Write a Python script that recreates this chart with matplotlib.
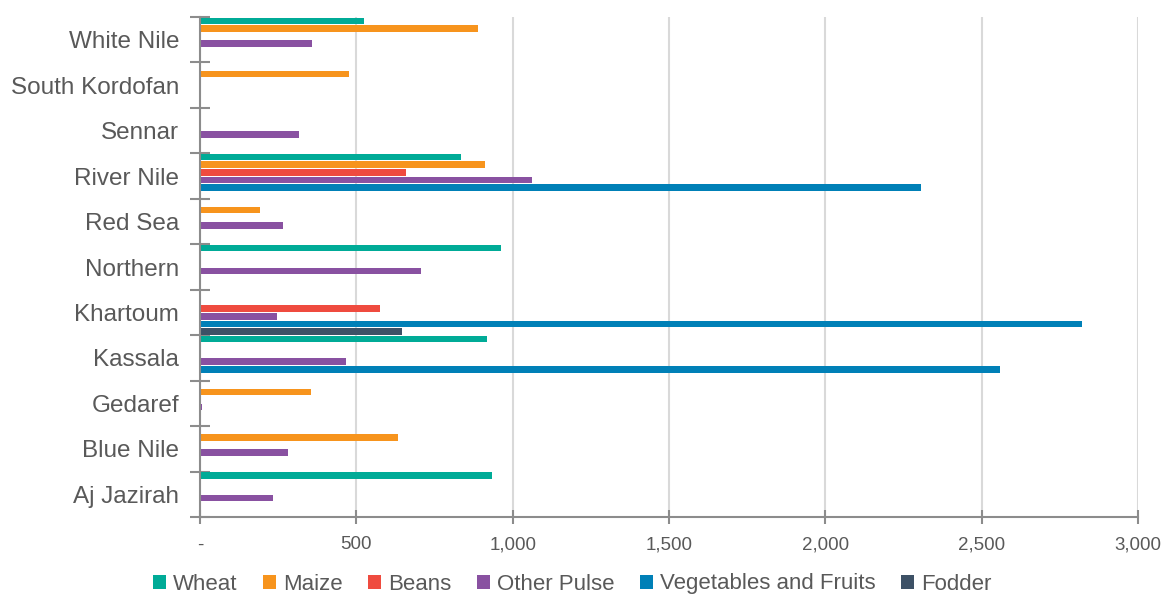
import numpy as np
import matplotlib
matplotlib.use("Agg")
import matplotlib.pyplot as plt
from matplotlib.patches import Patch
from matplotlib.ticker import FuncFormatter

plt.rcParams['font.family'] = ['Liberation Sans', 'DejaVu Sans']

# States, listed from the bottom of the axis upwards
states = ['Aj Jazirah', 'Blue Nile', 'Gedaref', 'Kassala', 'Khartoum', 'Northern',
          'Red Sea', 'River Nile', 'Sennar', 'South Kordofan', 'White Nile']

crops = ['Wheat', 'Maize', 'Beans', 'Other Pulse', 'Vegetables and Fruits', 'Fodder']
colors = ['#00AB97', '#F7941D', '#EF4B3F', '#8951A1', '#0080B7', '#3D5166']

wheat = [933, 0, 0, 917, 0, 963, 0, 835, 0, 0, 524]
maize = [0, 632, 356, 0, 0, 0, 192, 913, 0, 477, 889]
beans = [0, 0, 0, 0, 575, 0, 0, 658, 0, 0, 0]
other_pulse = [232, 280, 6, 466, 247, 707, 265, 1062, 318, 0, 359]
veg_fruits = [0, 0, 0, 2558, 2822, 0, 0, 2306, 0, 0, 0]
fodder = [0, 0, 0, 0, 646, 0, 0, 0, 0, 0, 0]

series = [wheat, maize, beans, other_pulse, veg_fruits, fodder]

text_col = '#595959'
axis_col = '#8C8C8C'

fig = plt.figure(figsize=(11.67, 5.94), dpi=100)
ax = fig.add_axes([200 / 1167, 1 - 517 / 594, 938 / 1167, 500 / 594])

y = np.arange(len(states))
slot = 1 / len(crops)
for k, (vals, col) in enumerate(zip(series, colors)):
    # first series sits at the top of each band
    pos = y + 0.5 - (k + 0.5) * slot
    ax.barh(pos, vals, height=slot * 0.86, color=col, zorder=3)

ax.set_xlim(0, 3000)
ax.set_ylim(-0.5, len(states) - 0.5)
ax.set_xticks(np.arange(0, 3001, 500))
ax.xaxis.set_major_formatter(FuncFormatter(lambda v, p: '-' if v == 0 else f'{int(v):,}'))
ax.grid(axis='x', color='#D9D9D9', linewidth=1.5, zorder=0)

# band boundaries as major ticks, state names on minor ticks
ax.set_yticks(np.arange(-0.5, len(states), 1.0))
ax.set_yticklabels([])
ax.set_yticks(y, minor=True)
ax.set_yticklabels(states, minor=True)
ax.tick_params(axis='y', which='major', direction='inout', length=15, width=1.5, color=axis_col)
ax.tick_params(axis='y', which='minor', length=0, pad=15, labelsize=17.5, labelcolor=text_col)
ax.tick_params(axis='x', direction='inout', length=10, width=1.5, color=axis_col,
               pad=9, labelsize=13.5, labelcolor=text_col)

for side in ['top', 'right']:
    ax.spines[side].set_visible(False)
for side in ['left', 'bottom']:
    ax.spines[side].set_color(axis_col)
    ax.spines[side].set_linewidth(1.5)
    ax.spines[side].set_zorder(4)

handles = [Patch(facecolor=c, edgecolor='none') for c in colors]
fig.legend(handles, crops, loc='center', bbox_to_anchor=(572 / 1167, 1 - 584 / 594),
           ncol=6, frameon=False, fontsize=16, labelcolor=text_col,
           handlelength=0.6, handleheight=0.6, handletextpad=0.3, columnspacing=1.15)

fig.savefig('out.png', dpi=100)
